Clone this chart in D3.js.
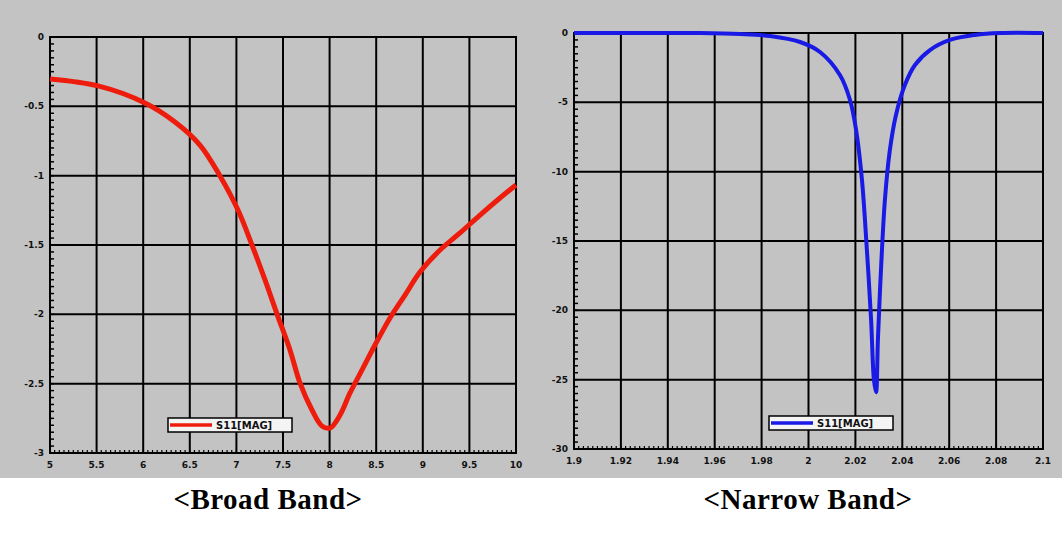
<!DOCTYPE html>
<html>
<head>
<meta charset="utf-8">
<script src="https://cdn.jsdelivr.net/npm/d3@7"></script>
<style>
  html, body { margin: 0; padding: 0; background: #ffffff; }
  svg { display: block; }
  .tick-label { font-family: "DejaVu Sans", sans-serif; font-weight: bold; font-size: 9px; fill: #111; }
  .caption { font-family: "Liberation Serif", "DejaVu Serif", serif; font-weight: bold; font-size: 29px; fill: #000; letter-spacing: 0.5px; }
</style>
</head>
<body>
<svg id="chart" width="1062" height="533"></svg>
<script>
// Broad band response
const broadX = [5, 5.515, 6.019, 6.341, 6.609, 6.824, 7.017, 7.167, 7.307, 7.436, 7.575, 7.682, 7.811, 7.918, 8.004, 8.112, 8.219, 8.348, 8.487, 8.648, 8.809, 8.970, 9.185, 9.399, 9.614, 9.828, 10];
const broadY = [-0.303, -0.353, -0.476, -0.613, -0.779, -1.002, -1.248, -1.5, -1.752, -1.998, -2.257, -2.495, -2.690, -2.805, -2.820, -2.726, -2.567, -2.401, -2.221, -2.026, -1.861, -1.695, -1.536, -1.413, -1.284, -1.161, -1.067];
const broadXTicks = ["5", "5.5", "6", "6.5", "7", "7.5", "8", "8.5", "9", "9.5", "10"];
const broadYTicks = ["0", "-0.5", "-1", "-1.5", "-2", "-2.5", "-3"];
const broadLegend = "S11[MAG]";

// Narrow band response
const narrowX = [1.9, 1.9196, 1.9537, 1.9708, 1.9836, 1.9964, 2.0049, 2.0134, 2.0177, 2.0203, 2.0228, 2.0249, 2.0267, 2.0279, 2.0288, 2.0296, 2.0309, 2.0326, 2.0347, 2.0373, 2.0411, 2.0454, 2.0518, 2.0603, 2.0710, 2.0817, 2.1];
const narrowY = [0, 0, 0, -0.07, -0.22, -0.65, -1.37, -3.03, -4.83, -7.0, -10.6, -15.65, -20.7, -25.0, -25.9, -22.1, -17.1, -12.0, -8.44, -5.91, -3.75, -2.31, -1.23, -0.5, -0.14, 0, 0];
const narrowXTicks = ["1.9", "1.92", "1.94", "1.96", "1.98", "2", "2.02", "2.04", "2.06", "2.08", "2.1"];
const narrowYTicks = ["0", "-5", "-10", "-15", "-20", "-25", "-30"];
const narrowLegend = "S11[MAG]";

const svg = d3.select("#chart");

// gray panel behind both plots
svg.append("rect").attr("x", 0).attr("y", 0).attr("width", 1062).attr("height", 478).attr("fill", "#c3c3c3");

function drawPlot(cfg) {
  const g = svg.append("g");
  const x = d3.scaleLinear().domain(cfg.xDomain).range([cfg.left, cfg.right]);
  const y = d3.scaleLinear().domain(cfg.yDomain).range([cfg.bottom, cfg.top]);
  const xTickVals = cfg.xTicks.map(t => +t);
  const yTickVals = cfg.yTicks.map(t => +t);

  // grid
  g.selectAll(".vg").data(xTickVals).join("line")
    .attr("x1", d => x(d)).attr("x2", d => x(d))
    .attr("y1", cfg.top).attr("y2", cfg.bottom)
    .attr("stroke", "#000").attr("stroke-width", 2);
  g.selectAll(".hg").data(yTickVals).join("line")
    .attr("x1", cfg.left).attr("x2", cfg.right)
    .attr("y1", d => y(d)).attr("y2", d => y(d))
    .attr("stroke", "#000").attr("stroke-width", 2);

  // minor ticks along the left and bottom axes
  const yMinor = d3.range(0, 61).map(i => cfg.yDomain[1] + (cfg.yDomain[0] - cfg.yDomain[1]) * i / 60);
  g.selectAll(".ym").data(yMinor).join("line")
    .attr("x1", cfg.left).attr("x2", cfg.left + 4)
    .attr("y1", d => y(d)).attr("y2", d => y(d))
    .attr("stroke", "#000").attr("stroke-width", 1.5);
  const xMinor = d3.range(0, 101).map(i => cfg.xDomain[0] + (cfg.xDomain[1] - cfg.xDomain[0]) * i / 100);
  g.selectAll(".xm").data(xMinor).join("line")
    .attr("x1", d => x(d)).attr("x2", d => x(d))
    .attr("y1", cfg.bottom).attr("y2", cfg.bottom - 3)
    .attr("stroke", "#000").attr("stroke-width", 1.2);

  // frame
  g.append("rect").attr("x", cfg.left).attr("y", cfg.top)
    .attr("width", cfg.right - cfg.left).attr("height", cfg.bottom - cfg.top)
    .attr("fill", "none").attr("stroke", "#000").attr("stroke-width", 2);

  // tick labels
  g.selectAll(".xl").data(cfg.xTicks).join("text")
    .attr("class", "tick-label")
    .attr("x", d => x(+d)).attr("y", cfg.bottom + 15)
    .attr("text-anchor", "middle").text(d => d);
  g.selectAll(".yl").data(cfg.yTicks).join("text")
    .attr("class", "tick-label")
    .attr("x", cfg.left - 6).attr("y", d => y(+d) + 3)
    .attr("text-anchor", "end").text(d => d);

  // curve
  const pts = cfg.xs.map((v, i) => [v, cfg.ys[i]]);
  g.append("path").datum(pts)
    .attr("d", d3.line().x(d => x(d[0])).y(d => y(d[1])).curve(d3.curveCatmullRom.alpha(0.5)))
    .attr("fill", "none").attr("stroke", cfg.color).attr("stroke-width", cfg.width)
    .attr("stroke-linejoin", "round");

  // legend
  const lg = g.append("g").attr("transform", `translate(${cfg.legendX},${cfg.legendY})`);
  lg.append("rect").attr("width", 124).attr("height", 14)
    .attr("fill", "#f4f4f4").attr("stroke", "#000").attr("stroke-width", 1.5);
  lg.append("line").attr("x1", 2).attr("x2", 44).attr("y1", 7).attr("y2", 7)
    .attr("stroke", cfg.color).attr("stroke-width", 3.5);
  lg.append("text").attr("class", "tick-label").attr("x", 48).attr("y", 11)
    .style("font-size", "10px").text(cfg.legend);

  // caption
  svg.append("text").attr("class", "caption")
    .attr("x", cfg.captionX).attr("y", 509).attr("text-anchor", "middle").text(cfg.caption);
}

drawPlot({
  xDomain: [5, 10], yDomain: [-3, 0],
  left: 50, right: 516, top: 37, bottom: 453,
  xTicks: broadXTicks, yTicks: broadYTicks,
  xs: broadX, ys: broadY, color: "#ee1c0c", width: 5,
  legendX: 168, legendY: 418, legend: broadLegend,
  captionX: 268, caption: "<Broad  Band>"
});

drawPlot({
  xDomain: [1.9, 2.1], yDomain: [-30, 0],
  left: 574, right: 1043, top: 33, bottom: 449,
  xTicks: narrowXTicks, yTicks: narrowYTicks,
  xs: narrowX, ys: narrowY, color: "#1a1ae6", width: 4,
  legendX: 769, legendY: 416, legend: narrowLegend,
  captionX: 808, caption: "<Narrow  Band>"
});
</script>
</body>
</html>
